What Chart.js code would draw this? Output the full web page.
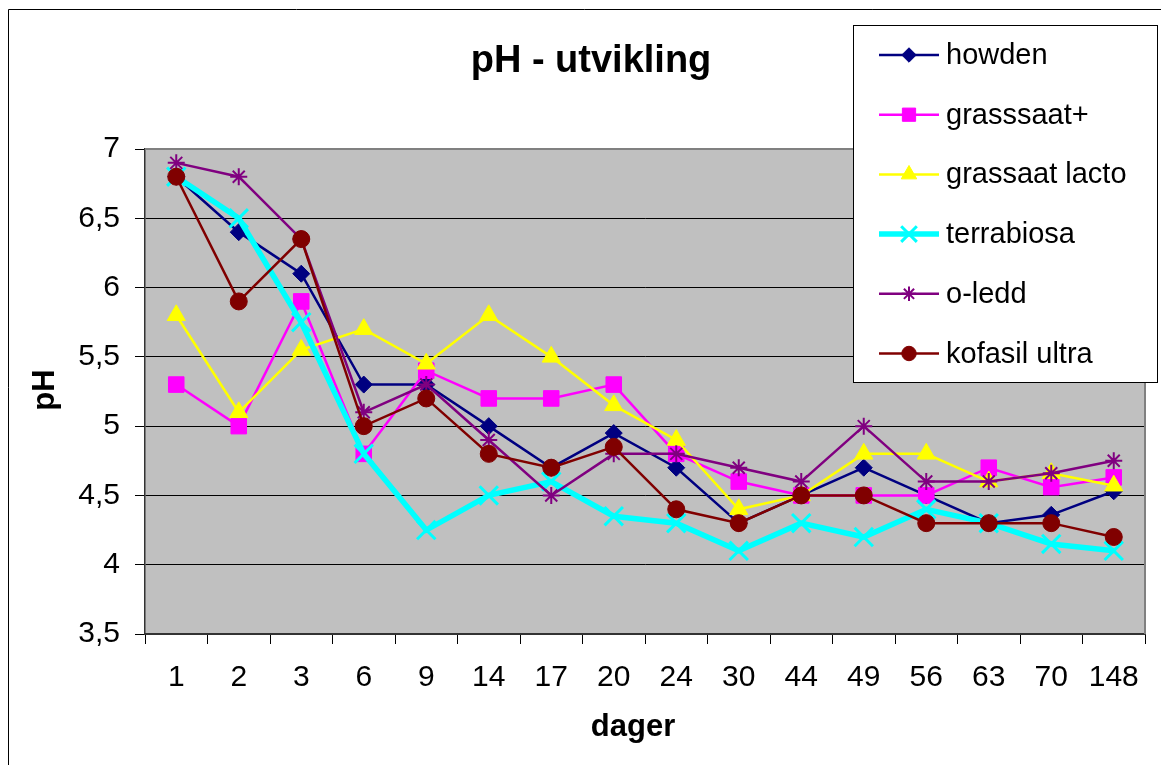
<!DOCTYPE html>
<html>
<head>
<meta charset="utf-8">
<title>pH - utvikling</title>
<script src="https://cdn.jsdelivr.net/npm/chart.js@4.4.1/dist/chart.umd.min.js"></script>
<style>
  html, body { margin: 0; padding: 0; background: #fff; }
  #wrap { width: 1161px; height: 765px; position: relative; }
</style>
</head>
<body>
<div id="wrap"><canvas id="chart" width="1161" height="765"></canvas></div>
<script>
// categories (days) and pH readings per treatment
const days = ["1", "2", "3", "6", "9", "14", "17", "20", "24", "30", "44", "49", "56", "63", "70", "148"];
const yTicks = [3.5, 4, 4.5, 5, 5.5, 6, 6.5, 7];

const howden        = [6.8, 6.4, 6.1, 5.3, 5.3, 5.0, 4.7, 4.95, 4.7, 4.3, 4.5, 4.7, 4.5, 4.3, 4.36, 4.53];
const grasssaatPlus = [5.3, 5.0, 5.9, 4.8, 5.4, 5.2, 5.2, 5.3, 4.8, 4.6, 4.5, 4.5, 4.5, 4.7, 4.56, 4.63];
const grassaatLacto = [5.8, 5.1, 5.55, 5.7, 5.45, 5.8, 5.5, 5.15, 4.9, 4.4, 4.5, 4.8, 4.8, 4.6, 4.66, 4.57];
const terrabiosa    = [6.8, 6.5, 5.75, 4.8, 4.25, 4.5, 4.6, 4.35, 4.3, 4.1, 4.3, 4.2, 4.4, 4.3, 4.15, 4.1];
const oLedd         = [6.9, 6.8, 6.35, 5.1, 5.3, 4.9, 4.5, 4.8, 4.8, 4.7, 4.6, 5.0, 4.6, 4.6, 4.66, 4.75];
const kofasilUltra  = [6.8, 5.9, 6.35, 5.0, 5.2, 4.8, 4.7, 4.85, 4.4, 4.3, 4.5, 4.5, 4.3, 4.3, 4.3, 4.2];

const FONT = "'Liberation Sans', Arial, sans-serif";
const PLOT = { left: 145, top: 149, right: 1152, bottom: 634 };

function series(label, data, color, style, radius, width, pointWidth, order) {
  return {
    label, data,
    borderColor: color,
    backgroundColor: color,
    borderWidth: width,
    pointStyle: style,
    pointRadius: radius,
    pointHoverRadius: radius,
    pointBorderWidth: pointWidth,
    pointBackgroundColor: color,
    pointBorderColor: color,
    tension: 0,
    order,
  };
}

const datasets = [
  series("howden", howden, "#000080", "rectRot", 8.5, 2.5, 1, 6),
  series("grasssaat+", grasssaatPlus, "#FF00FF", "rect", 11, 2.5, 1, 5),
  series("grassaat lacto", grassaatLacto, "#FFFF00", "triangle", 10.5, 2.5, 1, 4),
  series("terrabiosa", terrabiosa, "#00FFFF", "crossRot", 13, 5.5, 3, 3),
  series("o-ledd", oLedd, "#800080", "star", 8.5, 2.5, 2, 2),
  series("kofasil ultra", kofasilUltra, "#800000", "circle", 8.5, 2.5, 1, 1),
];

const decor = {
  id: "decor",
  beforeDraw(chart) {
    const { ctx, chartArea: a } = chart;
    ctx.save();
    ctx.fillStyle = "#fff";
    ctx.fillRect(0, 0, chart.width, chart.height);
    // outer frame (left and top only visible)
    ctx.strokeStyle = "#000";
    ctx.lineWidth = 1;
    ctx.beginPath();
    ctx.moveTo(8.5, chart.height);
    ctx.lineTo(8.5, 9.5);
    ctx.lineTo(chart.width, 9.5);
    ctx.stroke();
    // plot area
    ctx.fillStyle = "#C0C0C0";
    ctx.fillRect(a.left, a.top, a.right - a.left, a.bottom - a.top);
    ctx.restore();
  },
  beforeDatasetsDraw(chart) {
    const { ctx, chartArea: a } = chart;
    ctx.save();
    ctx.strokeStyle = "#808080";
    ctx.lineWidth = 2;
    ctx.beginPath();
    ctx.moveTo(a.left, a.top);
    ctx.lineTo(a.right, a.top);
    ctx.lineTo(a.right, a.bottom);
    ctx.stroke();
    ctx.restore();
  },
  afterDraw(chart) {
    const { ctx } = chart;
    ctx.save();
    ctx.fillStyle = "#000";
    ctx.textAlign = "center";
    ctx.textBaseline = "middle";
    ctx.font = "bold 38px " + FONT;
    ctx.fillText("pH - utvikling", 591, 62);
    ctx.font = "bold 31px " + FONT;
    ctx.fillText("dager", 633, 727);
    ctx.translate(45, 390);
    ctx.rotate(-Math.PI / 2);
    ctx.fillText("pH", 0, 0);
    ctx.restore();

    // legend box
    ctx.save();
    ctx.fillStyle = "#fff";
    ctx.fillRect(853, 25, 304, 357);
    ctx.strokeStyle = "#000";
    ctx.lineWidth = 1;
    ctx.strokeRect(853.5, 25.5, 304, 357);
    chart.data.datasets.forEach((ds, i) => {
      const y = 55 + i * 59.7;
      ctx.strokeStyle = ds.borderColor;
      ctx.lineWidth = ds.borderWidth;
      ctx.beginPath();
      ctx.moveTo(879, y);
      ctx.lineTo(939, y);
      ctx.stroke();
      ctx.fillStyle = ds.pointBackgroundColor;
      ctx.lineWidth = ds.pointBorderWidth;
      Chart.helpers.drawPoint(ctx, {
        pointStyle: ds.pointStyle,
        radius: ds.pointRadius * 0.85,
        borderWidth: ds.pointBorderWidth,
        rotation: 0,
      }, 909, y);
      ctx.fillStyle = "#000";
      ctx.font = "29px " + FONT;
      ctx.textAlign = "left";
      ctx.textBaseline = "middle";
      ctx.fillText(ds.label, 946, y + 1);
    });
    ctx.restore();
  },
};

new Chart(document.getElementById("chart"), {
  type: "line",
  data: { labels: days, datasets },
  plugins: [decor],
  options: {
    responsive: false,
    animation: false,
    events: [],
    layout: { padding: { top: PLOT.top, right: 1161 - PLOT.right, left: 0, bottom: 0 } },
    plugins: { legend: { display: false }, title: { display: false }, tooltip: { enabled: false } },
    scales: {
      x: {
        offset: true,
        grid: { offset: true, drawOnChartArea: false, tickLength: 10, color: "#000", lineWidth: 1 },
        border: { display: true, color: "#333", width: 2 },
        ticks: { color: "#000", font: { family: FONT, size: 30 }, padding: 16, maxRotation: 0, autoSkip: false },
        afterFit(scale) {
          scale.height = 765 - PLOT.bottom;
          scale.paddingLeft = 0;
          scale.paddingRight = 0;
        },
      },
      y: {
        min: 3.5,
        max: 7,
        afterBuildTicks(scale) { scale.ticks = yTicks.map(v => ({ value: v })); },
        grid: {
          tickLength: 10,
          color: (c) => (c.tick && (c.tick.value === 7 || c.tick.value === 3.5)) ? "rgba(0,0,0,0)" : "#000",
          tickColor: "#000",
          lineWidth: 1,
        },
        border: { display: true, color: "#333", width: 1.5 },
        ticks: {
          color: "#000",
          font: { family: FONT, size: 30 },
          padding: 15,
          callback: (v) => String(v).replace(".", ","),
        },
        afterFit(scale) {
          scale.width = PLOT.left;
          scale.paddingTop = 0;
          scale.paddingBottom = 0;
        },
      },
    },
  },
});
</script>
</body>
</html>
